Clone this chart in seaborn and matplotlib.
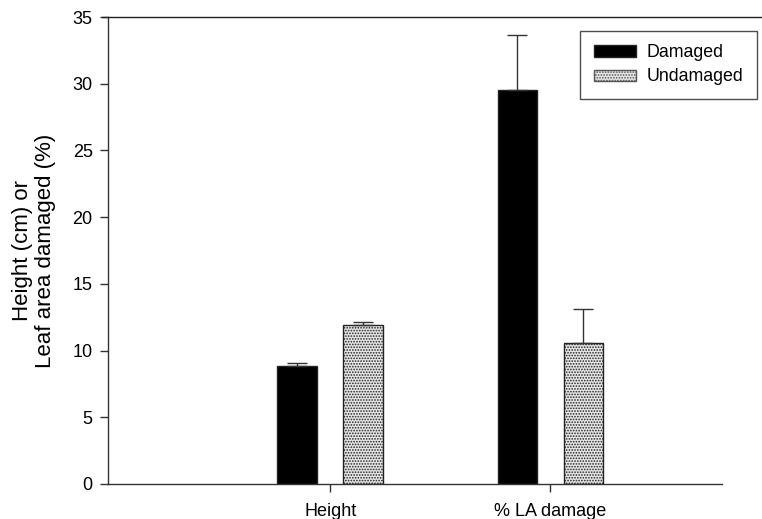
import matplotlib
matplotlib.use("Agg")
import matplotlib.pyplot as plt
import seaborn as sns
import pandas as pd
from matplotlib.patches import Patch
from matplotlib.lines import Line2D

categories = ["Height", "% LA damage"]
groups = ["Damaged", "Undamaged"]
damaged_mean = [8.85, 29.5]
damaged_err = [0.2, 4.15]
undamaged_mean = [11.9, 10.55]
undamaged_err = [0.22, 2.6]
y_ticks = [0, 5, 10, 15, 20, 25, 30, 35]

rows = []
for c, v in zip(categories, damaged_mean):
    rows.append({"measure": c, "group": groups[0], "value": v})
for c, v in zip(categories, undamaged_mean):
    rows.append({"measure": c, "group": groups[1], "value": v})
df = pd.DataFrame(rows)

sns.set_theme(style="white")
plt.rcParams['font.family'] = ['Liberation Sans', 'DejaVu Sans']
plt.rcParams['text.color'] = 'black'
plt.rcParams['axes.labelcolor'] = 'black'
plt.rcParams['xtick.color'] = '#333333'
plt.rcParams['ytick.color'] = '#333333'
plt.rcParams['xtick.labelcolor'] = 'black'
plt.rcParams['ytick.labelcolor'] = 'black'
plt.rcParams['hatch.color'] = '#555555'
plt.rcParams['hatch.linewidth'] = 0.8

fig = plt.figure(figsize=(7.62, 5.19), dpi=100)
ax = fig.add_axes([108/762, 1 - 484/519, 614/762, 467/519])

sns.barplot(data=df, x="measure", y="value", hue="group", order=categories,
            hue_order=groups, palette={"Damaged": "black", "Undamaged": "#e6e6e6"},
            width=0.6, gap=0.4, errorbar=None, edgecolor="#222222", linewidth=1.0,
            ax=ax, legend=False, saturation=1)

errs = [damaged_err, undamaged_err]
bar_containers = list(ax.containers)
for ci, cont in enumerate(bar_containers):
    xs, ys = [], []
    for bar in cont.patches:
        xs.append(bar.get_x() + bar.get_width() / 2)
        ys.append(bar.get_height())
        if ci == 1:
            bar.set_hatch("......")
    ax.errorbar(xs, ys, yerr=[[0] * len(xs), errs[ci]], fmt="none",
                ecolor="#333333", elinewidth=1.0, capsize=7, capthick=1.0)

ax.set_xlim(-1.01, 1.78)
ax.set_ylim(0, 35)
ax.set_yticks(y_ticks)
ax.set_xlabel("")
ax.set_ylabel("Height (cm) or\nLeaf area damaged (%)", fontsize=16, labelpad=12,
              linespacing=1.1, color="black")
ax.tick_params(axis="both", which="both", direction="out", length=6, width=1,
               labelsize=13, left=True, bottom=True, pad=5)
ax.tick_params(axis="x", pad=8)

for s in ["top", "right"]:
    ax.spines[s].set_visible(False)
for s in ["left", "bottom"]:
    ax.spines[s].set_color("#333333")
    ax.spines[s].set_linewidth(1.0)

fig.add_artist(Line2D([102/762, 1.0], [1 - 17/519, 1 - 17/519], color="#222222",
                      linewidth=1.0, transform=fig.transFigure))

handles = [Patch(facecolor="black", edgecolor="#222222", label="Damaged"),
           Patch(facecolor="#e6e6e6", edgecolor="#555555", hatch="......", label="Undamaged")]
leg = fig.legend(handles=handles, loc="upper right",
                 bbox_to_anchor=(757/762, 1 - 31/519), fontsize=12.8,
                 frameon=True, fancybox=False, borderpad=0.75, borderaxespad=0,
                 handlelength=2.4, handleheight=0.6, handletextpad=0.6,
                 labelspacing=0.4)
leg.get_frame().set_edgecolor("#222222")
leg.get_frame().set_linewidth(1.0)

fig.savefig("out.png", dpi=100, facecolor="white")
